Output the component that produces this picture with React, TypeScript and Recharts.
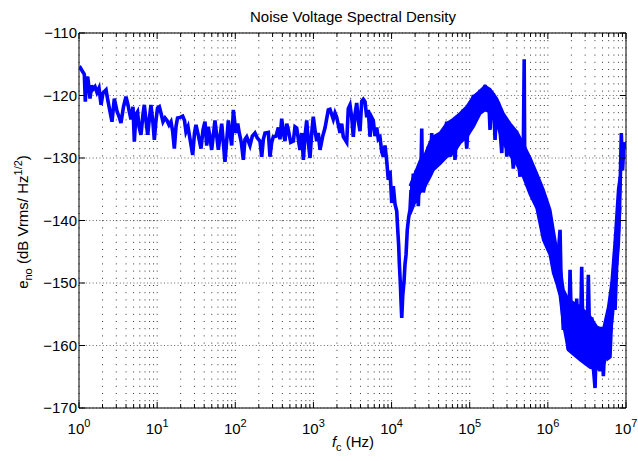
import React from "react";
import {
  ComposedChart,
  Line,
  Area,
  XAxis,
  YAxis,
  CartesianGrid,
  ReferenceArea,
} from "recharts";

document.body.style.margin = "0";

// frequency positions, in decades (log10 Hz)
const freqExp = [
  0.004, 0.019, 0.038, 0.068, 0.081, 0.096, 0.111, 0.128, 0.141, 0.16, 0.179, 0.205, 0.23, 0.256,
  0.282, 0.307, 0.346, 0.365, 0.388, 0.422, 0.452, 0.486, 0.518, 0.537, 0.569, 0.601, 0.627, 0.644,
  0.665, 0.691, 0.708, 0.729, 0.749, 0.768, 0.793, 0.819, 0.836, 0.857, 0.879, 0.902, 0.921, 0.947,
  0.964, 0.985, 1.005, 1.028, 1.049, 1.075, 1.101, 1.126, 1.152, 1.177, 1.199, 1.22, 1.241, 1.261,
  1.293, 1.327, 1.35, 1.369, 1.395, 1.421, 1.455, 1.478, 1.497, 1.529, 1.561, 1.587, 1.612,
  1.634, 1.655, 1.698, 1.74, 1.783, 1.826, 1.868, 1.911, 1.954, 1.975, 2.009, 2.031, 2.051, 2.077,
  2.103, 2.124, 2.146, 2.188, 2.218, 2.252, 2.282, 2.316, 2.338, 2.359, 2.38, 2.423, 2.444, 2.466,
  2.487, 2.521, 2.551, 2.572, 2.594, 2.615, 2.636, 2.658, 2.679, 2.709, 2.743, 2.764, 2.786, 2.807,
  2.828, 2.85, 2.871, 2.892, 2.914, 2.935, 2.956, 2.978, 2.998, 3.02, 3.042, 3.062, 3.084, 3.119,
  3.148, 3.19,
  3.212, 3.254, 3.276, 3.298, 3.34, 3.362, 3.382, 3.426, 3.446, 3.468, 3.49, 3.51, 3.532, 3.554,
  3.574, 3.596, 3.618, 3.638, 3.66, 3.682, 3.702, 3.724, 3.746, 3.766, 3.788, 3.81, 3.83, 3.852,
  3.874, 3.894, 3.916, 3.938, 3.958, 3.98, 4.002, 4.022, 4.044, 4.066, 4.079, 4.091, 4.099, 4.112,
  4.121, 4.13, 4.143, 4.159, 4.172, 4.185, 4.201, 4.219, 4.236, 4.249, 4.262, 4.278, 4.291, 4.3,
  4.313, 4.33, 4.342, 4.355, 4.364, 4.373, 4.386, 4.393, 4.406,
  4.428, 4.45, 4.47, 4.492, 4.514, 4.534, 4.556, 4.578, 4.598, 4.62, 4.642, 4.662, 4.684, 4.706,
  4.726, 4.748, 4.77, 4.79, 4.812, 4.834, 4.854, 4.876, 4.898, 4.918, 4.94, 4.962, 4.982, 5.004,
  5.026, 5.046, 5.068, 5.09, 5.11, 5.132, 5.154, 5.174, 5.196, 5.218, 5.238, 5.26, 5.282, 5.302,
  5.324, 5.346, 5.366, 5.388, 5.41, 5.43, 5.452, 5.474, 5.494, 5.516, 5.538, 5.558, 5.58, 5.602,
  5.622, 5.644, 5.666, 5.686, 5.697, 5.704, 5.72, 5.737, 5.755, 5.772, 5.794, 5.814, 5.836, 5.858,
  5.878, 5.9, 5.921, 5.942, 5.964, 5.985, 6.006, 6.028,
  6.049, 6.07, 6.092, 6.113, 6.134, 6.156, 6.168, 6.181, 6.198, 6.22, 6.241, 6.262, 6.284, 6.305,
  6.326, 6.348, 6.369, 6.39, 6.412, 6.433, 6.454, 6.476, 6.497, 6.518, 6.54, 6.562, 6.582, 6.604,
  6.625, 6.646, 6.668, 6.689, 6.71, 6.732, 6.753, 6.774, 6.795, 6.817, 6.838, 6.86, 6.881, 6.902,
  6.924, 6.94, 6.956, 6.975, 6.994,
];

// noise density in dB Vrms/sqrt(Hz)
const levelDb = [
  -115.8, -115.6, -116.0, -116.6, -121.0, -117.5, -117.0, -118.8, -120.5, -118.4, -119.0, -118.6, -119.5, -118.8,
  -121.5, -119.6, -119.1, -120.5, -122.0, -124.2, -120.5, -122.5, -123.6, -124.4, -121.8, -120.2, -121.5, -122.6,
  -123.8, -121.8, -127.4, -123.0, -122.6, -125.0, -126.3, -123.0, -121.5, -124.0, -126.3, -123.5, -121.5, -124.5,
  -127.1, -124.0, -122.0, -121.8, -122.8, -124.2, -123.6, -124.0, -124.7, -124.2, -125.8, -128.5, -125.0, -123.6,
  -123.5, -123.3, -124.0, -125.8, -125.0, -127.0, -129.5, -126.0, -124.7, -126.5, -128.5, -125.5, -124.2,
  -128.0, -125.0, -128.7, -124.0, -128.7, -124.5, -130.6, -124.0, -128.0, -122.3, -126.0, -124.5, -126.0, -127.5,
  -130.3, -127.0, -126.6, -128.0, -126.5, -126.0, -126.8, -127.3, -129.8, -127.0, -126.0, -125.9, -129.8, -127.5,
  -126.6, -126.5, -125.1, -127.0, -123.7, -126.0, -127.3, -124.5, -125.5, -127.5, -127.3, -125.0, -125.2, -127.0,
  -128.7, -126.0, -130.3, -126.5, -124.0, -127.5, -130.0, -126.0, -123.4, -125.5, -127.3, -126.0, -128.7, -126.5,
  -125.2, -122.3,
  -122.2, -123.8, -122.8, -123.5, -126.0, -124.5, -126.6, -127.5, -122.1, -121.5, -123.5, -126.6, -123.0, -121.2,
  -124.0, -125.7, -120.9, -120.6, -121.0, -123.5, -122.3, -126.6, -123.5, -124.0, -126.5, -125.1, -127.0, -126.7,
  -129.0, -129.8, -128.0, -130.5, -133.5, -132.0, -137.2, -134.5, -137.4, -138.5, -141.5, -144.0, -146.8, -150.0,
  -153.0, -155.6, -152.0, -149.8, -147.0, -145.5, -141.5, -139.5, -138.3, -135.1, -136.5, -132.5, -135.0, -137.2,
  -132.0, -134.5, -137.7, -133.0, -131.5, -134.0, -125.3, -131.0, -135.5,
  -134.2, -130.0, -128.2, -132.0, -126.0, -130.5, -127.5, -129.2, -127.0, -126.6, -129.0, -130.0, -126.5, -124.2,
  -127.5, -129.8, -126.0, -124.5, -130.3, -125.5, -123.4, -126.0, -123.0, -122.3, -125.0, -128.5, -124.0, -121.7,
  -123.5, -119.9, -122.5, -121.0, -123.0, -119.1, -121.5, -122.3, -118.3, -120.5, -119.0, -125.5, -121.0, -119.6,
  -127.1, -122.0, -121.0, -125.5, -129.2, -123.0, -124.5, -129.8, -126.0, -125.0, -128.5, -131.7, -127.0, -126.5,
  -130.0, -133.0, -129.0, -128.5, -114.2, -130.5, -129.8, -134.5, -131.0, -135.0, -132.0, -134.5, -137.2, -134.0,
  -136.0, -139.5, -141.0, -137.5, -138.5, -143.0, -144.7, -141.0,
  -142.0, -147.0, -143.5, -150.0, -145.0, -141.5, -149.0, -153.0, -157.5, -152.0, -158.0, -160.7, -147.9, -158.5,
  -155.0, -161.5, -152.5, -159.0, -162.0, -147.4, -162.3, -156.0, -163.0, -148.7, -162.5, -155.5, -163.5, -166.8,
  -157.2, -163.0, -164.1, -157.0, -164.9, -159.0, -156.7, -162.0, -161.8, -155.0, -151.1, -154.3, -147.0, -143.6,
  -135.1, -126.0, -132.0, -127.5, -128.5,
];

// envelope of the dense noise band above ~15 kHz
const bandExp = [
  4.236, 4.3, 4.364, 4.428, 4.492, 4.534, 4.62, 4.706, 4.79, 4.876, 4.962, 5.046, 5.132, 5.196,
  5.26, 5.346, 5.43, 5.516, 5.602, 5.686, 5.772, 5.858, 5.942, 6.028, 6.07, 6.113, 6.156, 6.198,
  6.262, 6.412, 6.54, 6.625, 6.71, 6.774, 6.817, 6.86, 6.902, 6.924,
];
const bandTop = [
  -134.5, -132.5, -130.5, -129.5, -127.5, -126.6, -126.0, -124.5, -123.8, -122.9, -121.8, -120.2, -119.3, -118.5,
  -119.0, -120.5, -122.9, -124.5, -125.8, -127.8, -130.0, -132.5, -135.1, -138.3, -141.5, -144.7, -147.4, -151.1,
  -152.7, -153.8, -155.4, -157.0, -157.5, -153.9, -150.0, -143.1, -135.0, -133.0,
];
const bandBottom = [
  -139.0, -137.0, -135.5, -134.5, -133.0, -131.9, -130.9, -129.8, -129.2, -127.6, -126.6, -125.0, -122.9, -122.3,
  -122.6, -124.5, -127.5, -129.5, -131.0, -133.0, -135.8, -138.0, -143.1, -145.5, -148.4, -150.0, -152.0, -156.5,
  -160.7, -162.3, -163.5, -163.8, -163.2, -160.7, -156.5, -151.1, -143.1, -137.8,
];

const yTicks = [-170, -160, -150, -140, -130, -120, -110];

// log grid: 1..9 per decade, up to 10^7
const xTicks: number[] = [];
for (let n = 0; n < 7; n++) {
  for (let k = 1; k < 10; k++) xTicks.push(Number((k * 10 ** n).toPrecision(6)));
}
xTicks.push(1e7);

const lineData = freqExp.map((e, i) => ({ f: 10 ** e, db: levelDb[i] }));
const bandData = bandExp.map((e, i) => ({ f: 10 ** e, range: [bandBottom[i], bandTop[i]] }));

const W = 638;
const H = 461;
const PLOT_W = 547;
const PLOT_H = 375;
const BLUE = "#0000ff";
const FONT = "'Liberation Sans', Arial, Helvetica, sans-serif";

const XTick = (props: any) => {
  const { x, y, payload } = props;
  const v = payload.value;
  const exp = Math.round(Math.log10(v));
  const major = Math.abs(10 ** exp - v) < 1e-6 * v;
  const len = major ? 6 : 4;
  return (
    <g>
      <line x1={x} x2={x} y1={y} y2={y - len} stroke="#000" />
      <line x1={x} x2={x} y1={y - PLOT_H} y2={y - PLOT_H + len} stroke="#000" />
      {major && (
        <text x={x} y={y + 26} textAnchor="middle" fontSize={15} fontFamily={FONT} fill="#000">
          10
          <tspan dy={-7} fontSize={11}>
            {exp}
          </tspan>
        </text>
      )}
    </g>
  );
};

const YTick = (props: any) => {
  const { x, y, payload } = props;
  return (
    <g>
      <line x1={x} x2={x + 6} y1={y} y2={y} stroke="#000" />
      <line x1={x + PLOT_W} x2={x + PLOT_W - 6} y1={y} y2={y} stroke="#000" />
      <text x={x - 2} y={y + 5} textAnchor="end" fontSize={15} fontFamily={FONT} fill="#000">
        {"\u2212" + Math.abs(payload.value)}
      </text>
    </g>
  );
};

export default function App() {
  return (
    <div style={{ position: "relative", width: W, height: H, background: "#fff" }}>
      <ComposedChart width={W} height={H} margin={{ top: 33, right: 12, bottom: 0, left: 0 }}>
        <CartesianGrid horizontal={false} stroke="#333" strokeDasharray="1 6.2" />
        <CartesianGrid vertical={false} stroke="#666" strokeDasharray="1 2.4" />
        <XAxis
          dataKey="f"
          type="number"
          scale="log"
          domain={[1, 1e7]}
          ticks={xTicks}
          interval={0}
          height={53}
          tickSize={0}
          tickMargin={0}
          axisLine={false}
          tickLine={false}
          tick={<XTick />}
          allowDataOverflow
        />
        <YAxis
          type="number"
          domain={[-170, -110]}
          ticks={yTicks}
          interval={0}
          width={79}
          tickSize={0}
          tickMargin={0}
          axisLine={false}
          tickLine={false}
          tick={<YTick />}
          allowDataOverflow
        />
        <Area
          data={bandData}
          dataKey="range"
          type="linear"
          stroke={BLUE}
          strokeWidth={3}
          fill={BLUE}
          fillOpacity={1}
          isAnimationActive={false}
        />
        <Line
          data={lineData}
          dataKey="db"
          type="linear"
          stroke={BLUE}
          strokeWidth={3.6}
          dot={false}
          isAnimationActive={false}
        />
        <ReferenceArea x1={1} x2={1e7} y1={-170} y2={-110} fill="none" stroke="#000" strokeWidth={1} />
      </ComposedChart>
      <svg
        width={W}
        height={H}
        style={{ position: "absolute", left: 0, top: 0, pointerEvents: "none" }}
        fontFamily={FONT}
      >
        <text x={353} y={22} textAnchor="middle" fontSize={15} fill="#000">
          Noise Voltage Spectral Density
        </text>
        <text x={353} y={447} textAnchor="middle" fontSize={15} fill="#000">
          <tspan fontStyle="italic">f</tspan>
          <tspan dy={4} fontSize={11}>c</tspan>
          <tspan dy={-4}> (Hz)</tspan>
        </text>
        <text
          transform="translate(28, 222) rotate(-90)"
          textAnchor="middle"
          fontSize={15}
          fill="#000"
        >
          <tspan>e</tspan>
          <tspan dy={4} fontSize={11}>no</tspan>
          <tspan dy={-4}> (dB Vrms/ Hz</tspan>
          <tspan dy={-6} fontSize={11}>1/2</tspan>
          <tspan dy={6}>)</tspan>
        </text>
      </svg>
    </div>
  );
}
